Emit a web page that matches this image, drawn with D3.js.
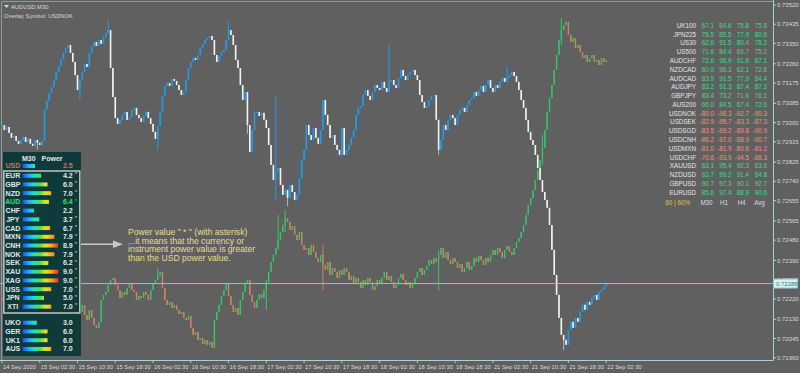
<!DOCTYPE html>
<html>
<head>
<meta charset="utf-8">
<script src="https://cdn.jsdelivr.net/npm/d3@7"></script>
<style>
html, body { margin: 0; padding: 0; background: #606060; overflow: hidden; }
svg { display: block; font-family: "Liberation Sans", Arial, sans-serif; }
</style>
</head>
<body>
<div id="chart"></div>
<script>
// AUDUSD M30 closes, one per bar (bar 0 = 14 Sep 18:30)
var audOpen0 = 0.72980;
var audClose = [
  0.72989,0.72967,0.72981,0.72954,0.72932,0.72941,0.72919,0.72906,0.72923,0.72936,0.72914,0.72928,0.72906,0.72897,0.72923,0.72910,
  0.72901,0.72919,0.73056,0.73096,0.73131,0.73157,0.73188,0.73224,0.73250,0.73281,0.73308,0.73330,0.73343,0.73308,0.73268,0.73210,
  0.73144,0.73188,0.73224,0.73259,0.73246,0.73308,0.73334,0.73356,0.73339,0.73365,0.73348,0.73378,0.73396,0.73409,0.73241,0.73113,
  0.73020,0.72994,0.73012,0.73034,0.73047,0.73012,0.73025,0.73056,0.73065,0.73034,0.73020,0.73003,0.73029,0.73047,0.73020,0.72994,
  0.72959,0.72928,0.72985,0.73047,0.73118,0.73162,0.73175,0.73162,0.73193,0.73184,0.73166,0.73144,0.73122,0.73135,0.73188,0.73241,
  0.73268,0.73286,0.73277,0.73299,0.73330,0.73348,0.73365,0.73374,0.73383,0.73365,0.73299,0.73268,0.73294,0.73312,0.73321,0.73365,
  0.73409,0.73387,0.73343,0.73277,0.73241,0.73166,0.73100,0.73135,0.72989,0.72870,0.72967,0.73047,0.73047,0.73029,0.73043,0.73012,
  0.72976,0.72901,0.72813,0.72746,0.72782,0.72799,0.72724,0.72680,0.72702,0.72667,0.72724,0.72693,0.72658,0.72680,0.72755,0.72835,
  0.72879,0.72989,0.72945,0.72923,0.72976,0.72932,0.72906,0.72967,0.73100,0.73034,0.72989,0.72932,0.72945,0.72901,0.72879,0.72857,
  0.72976,0.72857,0.72879,0.72901,0.72932,0.72967,0.73034,0.73065,0.73073,0.73122,0.73144,0.73118,0.73100,0.73135,0.73166,0.73153,
  0.73144,0.73180,0.73153,0.73135,0.73180,0.73188,0.73166,0.73153,0.73197,0.73233,0.73206,0.73188,0.73210,0.73224,0.73233,0.73210,
  0.73188,0.73122,0.73091,0.73065,0.73073,0.73100,0.73118,0.73122,0.73012,0.72879,0.72923,0.72989,0.72967,0.73012,0.73034,0.73020,
  0.72989,0.73034,0.73056,0.73065,0.73047,0.73078,0.73100,0.73109,0.73135,0.73118,0.73144,0.73162,0.73135,0.73166,0.73188,0.73153,
  0.73135,0.73166,0.73153,0.73180,0.73197,0.73180,0.73197,0.73210,0.73224,0.73206,0.73180,0.73144,0.73100,0.73065,0.73012,0.72959,
  0.72923,0.72901,0.72857,0.72799,0.72746,0.72693,0.72658,0.72623,0.72547,0.72437,0.72326,0.72238,0.72136,0.72061,0.72039,0.72017,
  0.72083,0.72119,0.72092,0.72136,0.72119,0.72163,0.72194,0.72172,0.72207,0.72194,0.72225,0.72238,0.72216,0.72251,0.72260,0.72273,0.72288
];
// [bar, high, low] for the bars with visible wicks
var audWicks = [
  [15, 0.72923, 0.72880], [33, 0.73190, 0.73100], [45, 0.73454, 0.73396], [66, 0.72985, 0.72879],
  [96, 0.73445, 0.73365], [104, 0.73135, 0.72950], [116, 0.73113, 0.72658], [121, 0.72702, 0.72630],
  [164, 0.73343, 0.73135], [185, 0.73012, 0.72857], [214, 0.73250, 0.73180], [238, 0.72039, 0.71994]
];

// overlay symbol USDNOK, same bars
var ovOpen0 = 9.052;
var ovClose = [
  9.050,9.045,9.048,9.040,9.035,9.038,9.032,9.030,9.035,9.038,9.032,9.034,9.030,9.028,9.032,9.030,
  9.028,9.032,9.050,9.055,9.060,9.058,9.062,9.065,9.070,9.067,9.072,9.070,9.065,9.060,9.055,9.045,
  9.042,9.038,9.045,9.035,9.030,9.040,9.032,9.025,9.022,9.028,9.050,9.055,9.058,9.065,9.070,9.072,
  9.065,9.060,9.052,9.058,9.055,9.062,9.066,9.060,9.058,9.050,9.054,9.052,9.058,9.055,9.050,9.060,
  9.066,9.070,9.074,9.078,9.062,9.050,9.045,9.048,9.042,9.045,9.040,9.036,9.038,9.032,9.030,9.034,
  9.022,9.015,9.018,9.010,9.012,9.006,9.010,9.005,9.008,9.002,9.030,9.038,9.045,9.054,9.060,9.066,
  9.054,9.045,9.038,9.042,9.035,9.050,9.058,9.066,9.070,9.055,9.048,9.042,9.050,9.056,9.052,9.060,
  9.068,9.078,9.088,9.095,9.102,9.110,9.118,9.125,9.132,9.128,9.120,9.124,9.115,9.110,9.118,9.105,
  9.100,9.102,9.095,9.105,9.098,9.092,9.088,9.095,9.085,9.080,9.088,9.075,9.082,9.078,9.072,9.080,
  9.075,9.082,9.078,9.070,9.074,9.066,9.072,9.068,9.062,9.070,9.065,9.072,9.068,9.060,9.064,9.070,
  9.066,9.072,9.078,9.070,9.074,9.068,9.062,9.065,9.072,9.076,9.070,9.065,9.068,9.062,9.066,9.072,
  9.078,9.082,9.075,9.080,9.084,9.090,9.086,9.092,9.088,9.095,9.102,9.092,9.098,9.090,9.086,9.092,
  9.088,9.082,9.086,9.078,9.082,9.088,9.080,9.084,9.092,9.088,9.094,9.090,9.085,9.092,9.088,9.095,
  9.100,9.095,9.102,9.098,9.092,9.100,9.104,9.098,9.095,9.102,9.108,9.112,9.118,9.125,9.135,9.145,
  9.152,9.160,9.170,9.180,9.190,9.202,9.220,9.238,9.252,9.265,9.280,9.295,9.310,9.320,9.325,9.328,
  9.315,9.308,9.312,9.302,9.305,9.298,9.292,9.295,9.288,9.292,9.295,9.288,9.290,9.285,9.292,9.288,9.290
];
// [bar, high, low] for overlay bars with long tails
var ovWicks = [
  [66, 9.082, 9.070], [112, 9.070, 9.040], [117, 9.135, 9.100], [120, 9.140, 9.118],
  [136, 9.105, 9.060], [185, 9.100, 9.060], [229, 9.215, 9.185], [237, 9.332, 9.305]
];

var priceTicks = [0.73520,0.73435,0.73350,0.73260,0.73175,0.73085,0.73000,0.72915,0.72825,0.72740,
  0.72655,0.72565,0.72480,0.72390,0.72305,0.72220,0.72130,0.72045,0.71960];
var timeLabels = ['14 Sep 2020','15 Sep 02:30','15 Sep 10:30','15 Sep 18:30','16 Sep 02:30','16 Sep 10:30',
  '16 Sep 18:30','17 Sep 02:30','17 Sep 10:30','17 Sep 18:30','18 Sep 02:30','18 Sep 10:30','18 Sep 18:30',
  '21 Sep 02:30','21 Sep 10:30','21 Sep 18:30','22 Sep 02:30'];
var barsPerLabel = 16;
var lastPrice = 0.72288;

// power panel
var baseSymbol = 'USD', baseValue = 2.5;
var powerSymbols = ['EUR','GBP','NZD','AUD','CHF','JPY','CAD','MXN','CNH','NOK','SEK','XAU','XAG','USS','JPN','XTI'];
var powerValues = [4.2,6.0,7.0,6.4,2.2,3.7,6.7,7.9,8.9,7.9,6.2,9.0,9.0,7.0,5.0,7.0];
var extraSymbols = ['UKO','GER','UK1','AUS'];
var extraValues = [3.0,6.0,6.0,7.0];

// strength table
var tableSymbols = ['UK100','JPN225','US30','US500','AUDCHF','NZDCAD','AUDCAD','AUDJPY','GBPJPY','AUS200',
  'USDNOK','USDSEK','USDSGD','USDCNH','USDMXN','USDCHF','XAUUSD','NZDUSD','GBPUSD','EURUSD'];
var tableM30 = [67.1,78.5,62.6,71.6,72.6,60.0,83.9,83.2,83.4,66.0,-80.0,-82.9,-83.5,-86.2,-81.0,-70.6,63.1,63.7,90.7,85.6];
var tableH1 = [84.6,85.5,91.5,84.4,96.9,96.3,91.5,91.3,73.2,84.5,-98.3,-95.7,-99.2,-97.0,-81.9,-93.9,95.4,99.2,97.3,97.4];
var tableH4 = [75.8,77.9,80.4,69.7,91.8,62.1,77.9,87.4,71.6,67.4,-92.7,-83.3,-89.8,-88.9,-80.6,-94.5,92.3,91.4,90.1,88.9];
var tableAvg = [75.8,80.6,78.2,75.2,87.1,72.8,84.4,87.3,76.1,72.6,-90.3,-87.3,-90.9,-90.7,-81.2,-86.3,83.6,84.8,92.7,90.6];
var tableHeader = ['M30','H1','H4','Avg'];

(function () {
  var width = 800, height = 373;
  var axisX = 773, axisY = 360;
  var colors = {
    bg: '#606060', axis: '#a6d4d4', text: '#d6dada',
    up: '#1d9cf0', down: '#f2f2f2', downWick: '#b4b4b4',
    ovUp: '#34c46c', ovDown: '#d2825e',
    pos: '#3fdc86', neg: '#f0937a', gold: '#e2c040'
  };

  var svg = d3.select('#chart').append('svg')
    .attr('width', width).attr('height', height);

  svg.append('rect').attr('width', width).attr('height', height).attr('fill', colors.bg);

  var x = d3.scaleLinear().domain([0, audClose.length - 1]).range([2, 2 + (audClose.length - 1) * 2.36]);
  var y = d3.scaleLinear().domain([0.71960, 0.73520]).range([357.7, 5]);
  var yOv = d3.scaleLinear().domain([9.000, 9.330]).range([350, 20]);

  function makeBars(closes, open0, wicks) {
    var bars = closes.map(function (c, i) {
      var o = i === 0 ? open0 : closes[i - 1];
      return {i: i, o: o, c: c, h: Math.max(o, c), l: Math.min(o, c)};
    });
    (wicks || []).forEach(function (w) { bars[w[0]].h = w[1]; bars[w[0]].l = w[2]; });
    return bars;
  }

  function drawCandles(bars, ys, up, down, downWick, bw) {
    var g = svg.append('g');
    g.selectAll('line').data(bars).enter().append('line')
      .attr('x1', d => x(d.i)).attr('x2', d => x(d.i))
      .attr('y1', d => ys(d.h)).attr('y2', d => ys(d.l))
      .attr('stroke', d => d.c >= d.o ? up : downWick)
      .attr('stroke-width', 1);
    g.selectAll('rect').data(bars).enter().append('rect')
      .attr('x', d => x(d.i) - bw / 2)
      .attr('y', d => ys(Math.max(d.o, d.c)))
      .attr('width', bw)
      .attr('height', d => Math.max(1, Math.abs(ys(d.o) - ys(d.c))))
      .attr('fill', d => d.c >= d.o ? up : down);
  }

  // frame
  svg.append('path').attr('d', 'M1.5,' + axisY + 'V1.5H' + axisX)
    .attr('fill', 'none').attr('stroke', '#8c9c9c').attr('stroke-width', 1);

  drawCandles(makeBars(ovClose, ovOpen0, ovWicks), yOv, colors.ovUp, colors.ovDown, colors.ovDown, 1.4);
  drawCandles(makeBars(audClose, audOpen0, audWicks), y, colors.up, colors.down, colors.downWick, 1.6);

  // last price line
  svg.append('line').attr('x1', 0).attr('x2', axisX).attr('y1', y(lastPrice)).attr('y2', y(lastPrice))
    .attr('stroke', '#9cbcbc').attr('stroke-width', 1);

  // axes lines
  svg.append('path').attr('d', 'M0,' + (axisY + 0.5) + 'H' + (axisX + 0.5) + 'V0')
    .attr('fill', 'none').attr('stroke', colors.axis).attr('stroke-width', 1);

  // price axis, the last price box is drawn over it as in the terminal
  var py = y(lastPrice);
  var yAxis = svg.append('g').attr('font-size', 6).attr('fill', colors.text);
  yAxis.selectAll('line').data(priceTicks).enter().append('line')
    .attr('x1', axisX).attr('x2', axisX + 3).attr('y1', d => y(d)).attr('y2', d => y(d))
    .attr('stroke', colors.axis);
  yAxis.selectAll('text').data(priceTicks).enter().append('text')
    .attr('x', axisX + 4).attr('y', d => y(d)).attr('dy', '0.35em')
    .text(d => d.toFixed(5));

  svg.append('rect').attr('x', axisX + 0.5).attr('y', py - 4.5).attr('width', 24).attr('height', 9)
    .attr('fill', '#d4f2f2').attr('stroke', '#8ccaca');
  svg.append('text').attr('x', axisX + 3).attr('y', py).attr('dy', '0.35em')
    .attr('font-size', 6).attr('fill', '#3c7c7c').text(lastPrice.toFixed(5));

  // time axis
  var xAxis = svg.append('g').attr('font-size', 5.8).attr('fill', colors.text);
  xAxis.selectAll('line').data(timeLabels).enter().append('line')
    .attr('x1', (d, i) => x(i * barsPerLabel)).attr('x2', (d, i) => x(i * barsPerLabel))
    .attr('y1', axisY).attr('y2', axisY + 3).attr('stroke', colors.axis);
  xAxis.selectAll('text').data(timeLabels).enter().append('text')
    .attr('x', (d, i) => x(i * barsPerLabel) + 1).attr('y', 367).attr('dy', '0.35em')
    .text(d => d);

  // title
  svg.append('path').attr('d', 'M4,5H9L6.5,8Z').attr('fill', colors.text);
  svg.append('text').attr('x', 11).attr('y', 6.5).attr('dy', '0.35em').attr('font-size', 5.8)
    .attr('fill', colors.text).text('AUDUSD,M30');
  svg.append('text').attr('x', 4).attr('y', 15.5).attr('dy', '0.35em').attr('font-size', 5.8)
    .attr('fill', colors.text).text('Overlay Symbol: USDNOK');

  // strength table
  var tbl = svg.append('g').attr('font-size', 6.3);
  var rowY = i => 25.7 + i * 8.78;
  var colEnd = [714, 731.5, 749, 767];
  tbl.selectAll('text.sym').data(tableSymbols).enter().append('text')
    .attr('x', 696).attr('y', (d, i) => rowY(i)).attr('dy', '0.35em')
    .attr('text-anchor', 'end').attr('fill', '#e4e4e4').text(d => d);
  [tableM30, tableH1, tableH4, tableAvg].forEach(function (col, c) {
    tbl.selectAll('text.c' + c).data(col).enter().append('text')
      .attr('x', colEnd[c]).attr('y', (d, i) => rowY(i)).attr('dy', '0.35em')
      .attr('text-anchor', 'end').attr('fill', d => d < 0 ? colors.neg : colors.pos)
      .text(d => d.toFixed(1));
  });
  var fy = rowY(tableSymbols.length) + 1.5;
  tbl.append('text').attr('x', 690).attr('y', fy).attr('dy', '0.35em').attr('text-anchor', 'end')
    .attr('fill', colors.gold).text('60 | 60%');
  tbl.selectAll('text.hd').data(tableHeader).enter().append('text')
    .attr('x', (d, i) => colEnd[i] - 7.5).attr('y', fy).attr('dy', '0.35em').attr('text-anchor', 'middle')
    .attr('fill', '#dcdcdc').text(d => d);

  // power panel
  var defs = svg.append('defs');
  var grad = defs.append('linearGradient').attr('id', 'pw')
    .attr('gradientUnits', 'userSpaceOnUse').attr('x1', 22.7).attr('x2', 58.7).attr('y1', 0).attr('y2', 0);
  [['0', '#1e4cff'], ['0.16', '#1ea8ff'], ['0.32', '#22e0c8'], ['0.48', '#4ee04a'],
   ['0.64', '#e8e428'], ['0.82', '#ff9a22'], ['1', '#ff2424']].forEach(function (s) {
    grad.append('stop').attr('offset', s[0]).attr('stop-color', s[1]);
  });
  var barLen = d3.scaleLinear().domain([0, 10]).range([3.3, 39.3]);

  var panel = svg.append('g').attr('font-weight', 'bold').attr('font-size', 7);
  panel.append('rect').attr('x', 3).attr('y', 152).attr('width', 78).attr('height', 204).attr('fill', '#0e3a3a');
  panel.append('text').attr('x', 22).attr('y', 158.5).attr('dy', '0.35em').attr('fill', '#e8e8e8').text('M30');
  panel.append('text').attr('x', 41.5).attr('y', 158.5).attr('dy', '0.35em').attr('fill', '#e8e8e8').text('Power');

  function powerRow(sym, val, yy, col, star) {
    panel.append('text').attr('x', 12.8).attr('y', yy).attr('dy', '0.35em').attr('text-anchor', 'middle')
      .attr('fill', col).text(sym);
    panel.append('rect').attr('x', 22.7).attr('y', yy - 2).attr('width', barLen(val)).attr('height', 4)
      .attr('fill', 'url(#pw)');
    panel.append('text').attr('x', 72.7).attr('y', yy).attr('dy', '0.35em').attr('text-anchor', 'end')
      .attr('fill', col).text(val.toFixed(1));
    if (star) {
      panel.append('text').attr('x', 75).attr('y', yy - 1).attr('dy', '0.35em').attr('font-size', 5)
        .attr('font-weight', 'normal').attr('fill', col).text('*');
    }
  }
  powerRow(baseSymbol, baseValue, 166, '#d86a6a', false);
  panel.append('rect').attr('x', 3.8).attr('y', 171).attr('width', 76).attr('height', 142)
    .attr('fill', 'none').attr('stroke', '#c4c4c4').attr('stroke-width', 1.5);
  powerSymbols.forEach(function (s, i) {
    powerRow(s, powerValues[i], 175.7 + i * 8.73, s === 'AUD' ? '#2ee070' : '#e6e6e6', powerValues[i] > baseValue);
  });
  extraSymbols.forEach(function (s, i) {
    powerRow(s, extraValues[i], 322.7 + i * 8.75, '#e6e6e6', false);
  });

  // arrow and note
  svg.append('line').attr('x1', 81).attr('x2', 114).attr('y1', 244.3).attr('y2', 244.3)
    .attr('stroke', '#c8c8c8').attr('stroke-width', 1.5);
  svg.append('path').attr('d', 'M113,240.5L123,244.3L113,248.1Z').attr('fill', '#c8c8c8');
  var note = ['Power value " * " (with asterisk)', '...it means that the currency or',
    'instrument power value is greater', 'than the USD power value.'];
  svg.append('g').attr('font-size', 8.6).attr('fill', '#e8de8c')
    .selectAll('text').data(note).enter().append('text')
    .attr('x', 128).attr('y', (d, i) => 232 + i * 8.6).attr('dy', '0.35em').text(d => d);
})();
</script>
</body>
</html>
